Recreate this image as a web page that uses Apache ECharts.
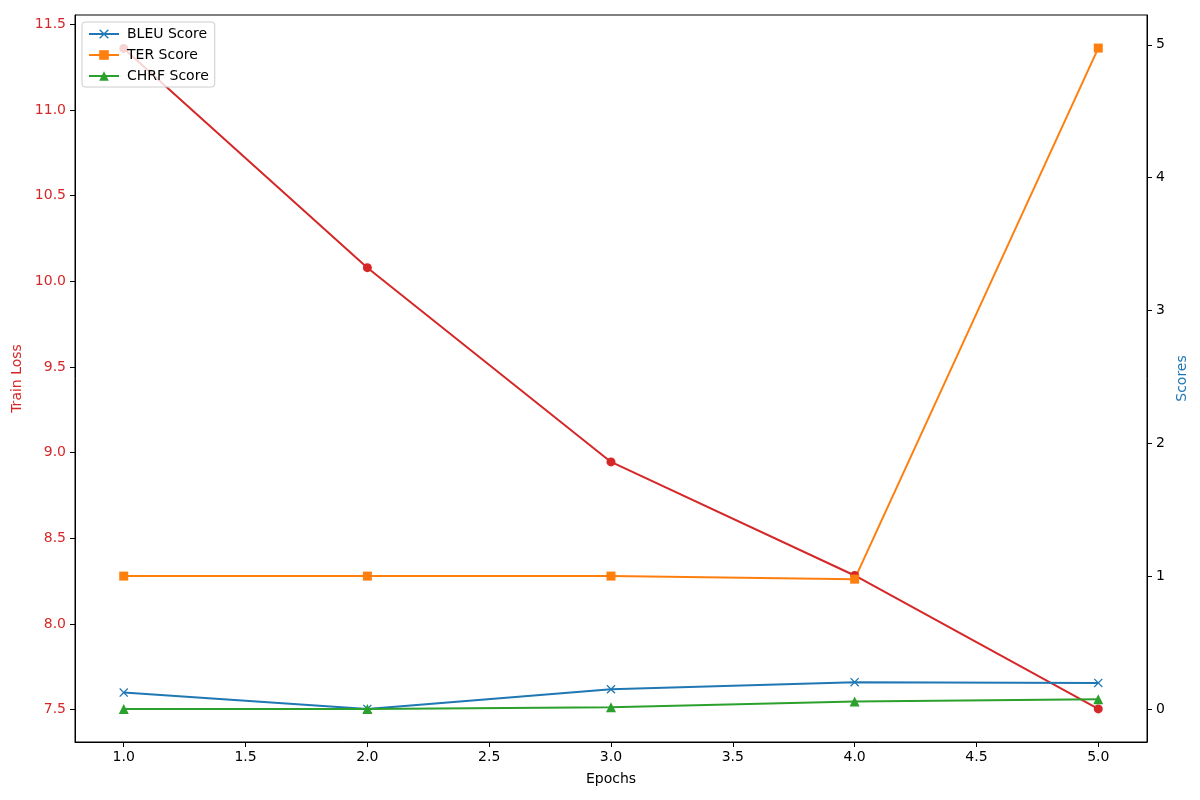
<!DOCTYPE html>
<html>
<head>
<meta charset="utf-8">
<script src="https://cdn.jsdelivr.net/npm/echarts@6/dist/echarts.min.js"></script>
<style>
  html, body { margin: 0; padding: 0; background: #fff; }
  #chart { width: 1200px; height: 800px; }
</style>
</head>
<body>
<div id="chart"></div>
<script>
// values
const epochs = [1, 2, 3, 4, 5];
const trainLoss = [11.36, 10.08, 8.946, 8.283, 7.504];
const bleuScore = [0.123, 0.0, 0.148, 0.201, 0.196];
const terScore = [1.0, 1.0, 1.0, 0.977, 4.975];
const chrfScore = [0.0, 0.0, 0.012, 0.055, 0.072];

const xTicks = [1.0, 1.5, 2.0, 2.5, 3.0, 3.5, 4.0, 4.5, 5.0];
const lossTicks = [7.5, 8.0, 8.5, 9.0, 9.5, 10.0, 10.5, 11.0, 11.5];
const scoreTicks = [0, 1, 2, 3, 4, 5];

const RED = '#d62728', BLUE = '#1f77b4', ORANGE = '#ff7f0e', GREEN = '#2ca02c';
const FONT = 'DejaVu Sans';
const FS = 14;
const crossPath = 'path://M0,1L1,0L5,4L9,0L10,1L6,5L10,9L9,10L5,6L1,10L0,9L4,5Z';

function pairs(ys) {
    return epochs.map((e, i) => [e, ys[i]]);
}

function lineSeries(name, ys, color, symbol, size, yIdx) {
    return {
        name: name,
        type: 'line',
        yAxisIndex: yIdx,
        data: pairs(ys),
        symbol: symbol,
        symbolSize: size,
        showAllSymbol: true,
        animation: false,
        lineStyle: { color: color, width: 2 },
        itemStyle: { color: color, borderWidth: 0 },
        emphasis: { disabled: true }
    };
}

const myChart = echarts.init(document.getElementById('chart'));
myChart.setOption({
    backgroundColor: '#fff',
    animation: false,
    textStyle: { fontFamily: FONT },
    grid: {
        left: 75, right: 53, top: 15, bottom: 58,
        show: true, borderColor: '#000', borderWidth: 1, backgroundColor: 'transparent'
    },
    legend: {
        data: ['BLEU Score', 'TER Score', 'CHRF Score'],
        orient: 'vertical',
        left: 82, top: 22,
        itemWidth: 30, itemHeight: 12,
        itemGap: 7,
        padding: [5, 6, 4, 6],
        backgroundColor: 'rgba(255,255,255,0.8)',
        borderColor: '#cccccc', borderWidth: 1, borderRadius: 3,
        textStyle: { fontFamily: FONT, fontSize: FS, color: '#000', padding: [0, 0, 0, 3] }
    },
    xAxis: {
        type: 'value',
        min: 0.8, max: 5.2,
        name: 'Epochs',
        nameLocation: 'middle',
        nameGap: 30,
        nameTextStyle: { fontFamily: FONT, fontSize: FS, color: '#000' },
        axisLine: { show: true, onZero: false, lineStyle: { color: '#000' } },
        axisTick: { show: true, inside: false, length: 5, customValues: xTicks, lineStyle: { color: '#000' } },
        axisLabel: { customValues: xTicks, margin: 8, fontSize: FS, color: '#000', fontFamily: FONT,
            formatter: v => v.toFixed(1) },
        splitLine: { show: false }
    },
    yAxis: [{
        type: 'value',
        position: 'left',
        min: 7.311, max: 11.555,
        name: 'Train Loss',
        nameLocation: 'middle',
        nameRotate: 90,
        nameGap: 45,
        nameTextStyle: { fontFamily: FONT, fontSize: FS, color: RED },
        axisLine: { show: true, onZero: false, lineStyle: { color: '#000' } },
        axisTick: { show: true, inside: false, length: 5, customValues: lossTicks, lineStyle: { color: '#000' } },
        axisLabel: { customValues: lossTicks, margin: 9, fontSize: FS, color: RED, fontFamily: FONT,
            formatter: v => v.toFixed(1) },
        splitLine: { show: false }
    }, {
        type: 'value',
        position: 'right',
        min: -0.249, max: 5.224,
        name: 'Scores',
        nameLocation: 'middle',
        nameRotate: 90,
        nameGap: 21,
        nameTextStyle: { fontFamily: FONT, fontSize: FS, color: BLUE },
        axisLine: { show: true, onZero: false, lineStyle: { color: '#000' } },
        axisTick: { show: true, inside: false, length: 5, customValues: scoreTicks, lineStyle: { color: '#000' } },
        axisLabel: { customValues: scoreTicks, margin: 9, fontSize: FS, color: '#000', fontFamily: FONT,
            formatter: v => String(v) },
        splitLine: { show: false }
    }],
    series: [
        lineSeries('Train Loss', trainLoss, RED, 'circle', 9, 0),
        lineSeries('BLEU Score', bleuScore, BLUE, crossPath, 9, 1),
        lineSeries('TER Score', terScore, ORANGE, 'rect', 9, 1),
        lineSeries('CHRF Score', chrfScore, GREEN, 'triangle', 10, 1)
    ]
});
window.addEventListener('resize', () => {
    myChart.resize();
});
</script>
</body>
</html>
